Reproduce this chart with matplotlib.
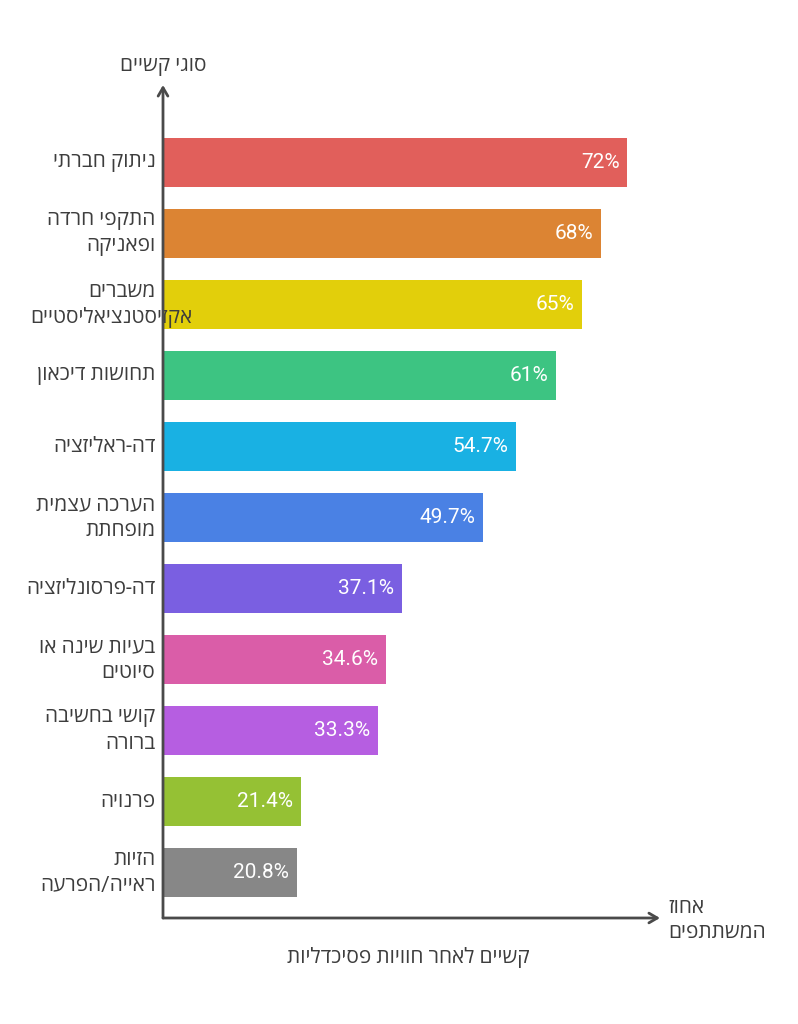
import matplotlib
matplotlib.use('Agg')
import matplotlib.pyplot as plt

plt.rcParams['font.family'] = ['Roboto', 'Open Sans', 'Liberation Sans', 'DejaVu Sans']

# data, top bar first (labels in logical order, reversed for drawing below)
categories = ['ניתוק חברתי', 'התקפי חרדה\nופאניקה', 'משברים\nאקזיסטנציאליסטיים',
              'תחושות דיכאון', 'דה-ראליזציה', 'הערכה עצמית\nמופחתת',
              'דה-פרסונליזציה', 'בעיות שינה או\nסיוטים', 'קושי בחשיבה\nברורה',
              'פרנויה', 'הזיות\nראייה/הפרעה']
values = [72, 68, 65, 61, 54.7, 49.7, 37.1, 34.6, 33.3, 21.4, 20.8]
bar_colors = ['#E15F5B', '#DC8433', '#E2CF0B', '#3DC482', '#19B1E3', '#4A81E4',
              '#7A5FE1', '#DA5DA8', '#B65EE1', '#95C134', '#878787']
y_title = 'סוגי קשיים'
x_title = 'אחוז\nהמשתתפים'
chart_title = 'קשיים לאחר חוויות פסיכדליות'

axis_col = '#4a4a4a'
text_col = '#3d3d3d'
DPI = 100


# matplotlib has no bidi support, so flip each line of hebrew text for display
def rtl(s):
    return '\n'.join(line[::-1] for line in s.split('\n'))


fig = plt.figure(figsize=(7.98, 10.24), dpi=DPI)
ax = fig.add_axes([163 / 798, 1 - 918 / 1024, 497 / 798, (918 - 85) / 1024])

pos = list(range(len(values)))
ax.barh(pos, values, height=0.69, color=bar_colors)
ax.set_xlim(0, 77.1)
ax.set_ylim(10.64, -1.09)

for p, v in zip(pos, values):
    ax.text(v - 1.2, p, f'{v:g}%', ha='right', va='center', color='white', fontsize=15)

# category labels, one text per line so a too-long line can spill right like the original
line_gap = 9.2  # points between line centre and label centre
cat_texts = []
for p, c in zip(pos, categories):
    lines = c.split('\n')
    n = len(lines)
    for k, line in enumerate(lines):
        dy = line_gap * (n - 1 - 2 * k)
        t = ax.annotate(rtl(line), xy=(-1.2, p), xytext=(0, dy), textcoords='offset points',
                        ha='right', va='center', color=text_col, fontsize=15,
                        annotation_clip=False)
        cat_texts.append(t)

fig.canvas.draw()
renderer = fig.canvas.get_renderer()
for t in cat_texts:
    bb = t.get_window_extent(renderer)
    if bb.x0 < 25:
        # push the line right so it starts near the figure edge
        t.xyann = ((30 - bb.x0) * 72 / DPI, t.xyann[1])

for s in ax.spines.values():
    s.set_visible(False)
ax.set_xticks([])
ax.set_yticks([])

# axis arrows
arrow = dict(arrowstyle='->,head_length=0.6,head_width=0.35', color=axis_col, lw=2,
             shrinkA=0, shrinkB=0)
ax.annotate('', xy=(0, 1), xytext=(0, 0), xycoords='axes fraction', arrowprops=arrow)
ax.annotate('', xy=(1, 0), xytext=(0, 0), xycoords='axes fraction', arrowprops=arrow)

fig.text(163 / 798, 1 - 67 / 1024, rtl(y_title), ha='center', va='center',
         color=text_col, fontsize=15)
fig.text(668 / 798, 1 - 920 / 1024, rtl(x_title), ha='left', va='center',
         color=text_col, fontsize=15, linespacing=1.35)
fig.text(408 / 798, 1 - 958 / 1024, rtl(chart_title), ha='center', va='center',
         color=text_col, fontsize=15)

fig.savefig('out.png', dpi=DPI, facecolor='white')
